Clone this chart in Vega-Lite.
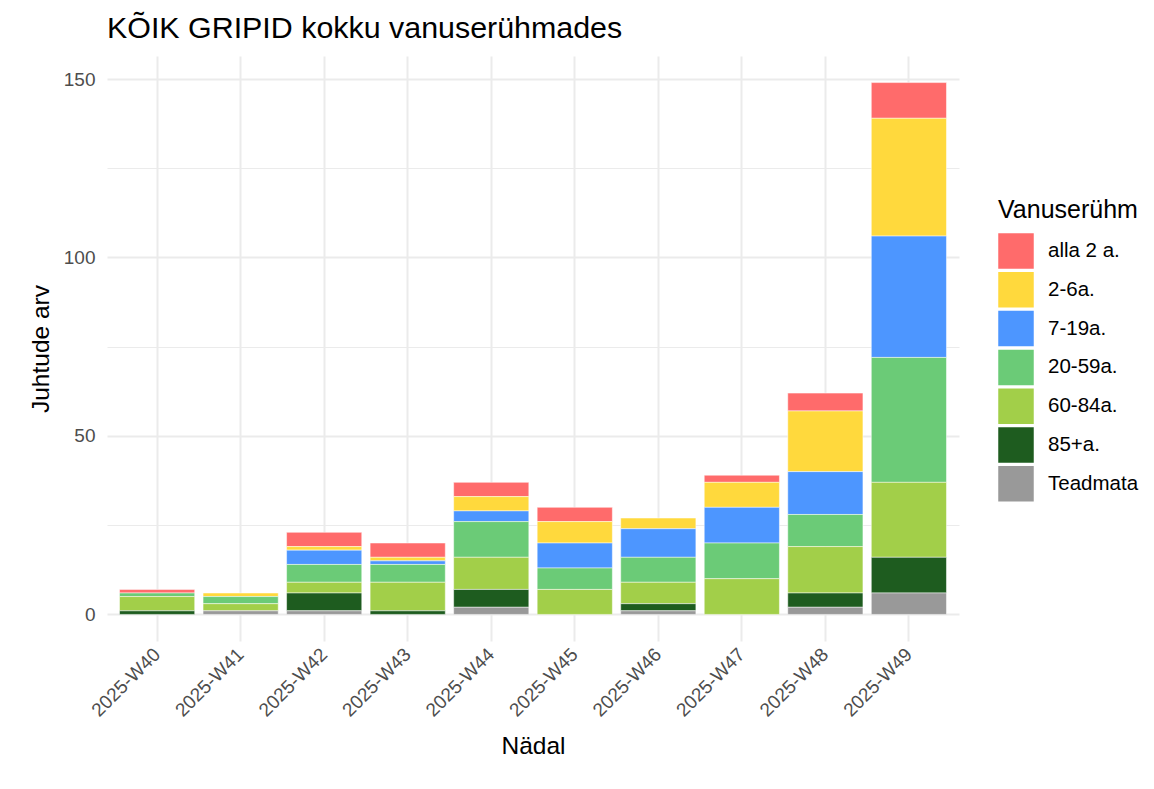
{
  "$schema": "https://vega.github.io/schema/vega-lite/v6.json",
  "width": 852,
  "height": 585,
  "autosize": {"type": "none"},
  "padding": {"left": 107, "top": 56, "right": 195, "bottom": 148},
  "background": "white",
  "title": {
    "text": "KÕIK GRIPID kokku vanuserühmades",
    "anchor": "start",
    "frame": "group",
    "font": "Liberation Sans",
    "fontSize": 30.4,
    "fontWeight": "normal",
    "color": "#000000",
    "offset": 12
  },
  "config": {
    "view": {"stroke": null},
    "font": "Liberation Sans"
  },
  "datasets": {
    "groups": [
      {"group": "alla 2 a.", "rank": 1},
      {"group": "2-6a.", "rank": 2},
      {"group": "7-19a.", "rank": 3},
      {"group": "20-59a.", "rank": 4},
      {"group": "60-84a.", "rank": 5},
      {"group": "85+a.", "rank": 6},
      {"group": "Teadmata", "rank": 7}
    ]
  },
  "data": {
    "values": [
      {"week": "2025-W40", "group": "alla 2 a.", "n": 1},
      {"week": "2025-W40", "group": "20-59a.", "n": 1},
      {"week": "2025-W40", "group": "60-84a.", "n": 4},
      {"week": "2025-W40", "group": "85+a.", "n": 1},
      {"week": "2025-W41", "group": "2-6a.", "n": 1},
      {"week": "2025-W41", "group": "20-59a.", "n": 2},
      {"week": "2025-W41", "group": "60-84a.", "n": 2},
      {"week": "2025-W41", "group": "Teadmata", "n": 1},
      {"week": "2025-W42", "group": "alla 2 a.", "n": 4},
      {"week": "2025-W42", "group": "2-6a.", "n": 1},
      {"week": "2025-W42", "group": "7-19a.", "n": 4},
      {"week": "2025-W42", "group": "20-59a.", "n": 5},
      {"week": "2025-W42", "group": "60-84a.", "n": 3},
      {"week": "2025-W42", "group": "85+a.", "n": 5},
      {"week": "2025-W42", "group": "Teadmata", "n": 1},
      {"week": "2025-W43", "group": "alla 2 a.", "n": 4},
      {"week": "2025-W43", "group": "2-6a.", "n": 1},
      {"week": "2025-W43", "group": "7-19a.", "n": 1},
      {"week": "2025-W43", "group": "20-59a.", "n": 5},
      {"week": "2025-W43", "group": "60-84a.", "n": 8},
      {"week": "2025-W43", "group": "85+a.", "n": 1},
      {"week": "2025-W44", "group": "alla 2 a.", "n": 4},
      {"week": "2025-W44", "group": "2-6a.", "n": 4},
      {"week": "2025-W44", "group": "7-19a.", "n": 3},
      {"week": "2025-W44", "group": "20-59a.", "n": 10},
      {"week": "2025-W44", "group": "60-84a.", "n": 9},
      {"week": "2025-W44", "group": "85+a.", "n": 5},
      {"week": "2025-W44", "group": "Teadmata", "n": 2},
      {"week": "2025-W45", "group": "alla 2 a.", "n": 4},
      {"week": "2025-W45", "group": "2-6a.", "n": 6},
      {"week": "2025-W45", "group": "7-19a.", "n": 7},
      {"week": "2025-W45", "group": "20-59a.", "n": 6},
      {"week": "2025-W45", "group": "60-84a.", "n": 7},
      {"week": "2025-W46", "group": "2-6a.", "n": 3},
      {"week": "2025-W46", "group": "7-19a.", "n": 8},
      {"week": "2025-W46", "group": "20-59a.", "n": 7},
      {"week": "2025-W46", "group": "60-84a.", "n": 6},
      {"week": "2025-W46", "group": "85+a.", "n": 2},
      {"week": "2025-W46", "group": "Teadmata", "n": 1},
      {"week": "2025-W47", "group": "alla 2 a.", "n": 2},
      {"week": "2025-W47", "group": "2-6a.", "n": 7},
      {"week": "2025-W47", "group": "7-19a.", "n": 10},
      {"week": "2025-W47", "group": "20-59a.", "n": 10},
      {"week": "2025-W47", "group": "60-84a.", "n": 10},
      {"week": "2025-W48", "group": "alla 2 a.", "n": 5},
      {"week": "2025-W48", "group": "2-6a.", "n": 17},
      {"week": "2025-W48", "group": "7-19a.", "n": 12},
      {"week": "2025-W48", "group": "20-59a.", "n": 9},
      {"week": "2025-W48", "group": "60-84a.", "n": 13},
      {"week": "2025-W48", "group": "85+a.", "n": 4},
      {"week": "2025-W48", "group": "Teadmata", "n": 2},
      {"week": "2025-W49", "group": "alla 2 a.", "n": 10},
      {"week": "2025-W49", "group": "2-6a.", "n": 33},
      {"week": "2025-W49", "group": "7-19a.", "n": 34},
      {"week": "2025-W49", "group": "20-59a.", "n": 35},
      {"week": "2025-W49", "group": "60-84a.", "n": 21},
      {"week": "2025-W49", "group": "85+a.", "n": 10},
      {"week": "2025-W49", "group": "Teadmata", "n": 6}
    ]
  },
  "transform": [
    {"lookup": "group", "from": {"data": {"name": "groups"}, "key": "group", "fields": ["rank"]}}
  ],
  "mark": {"type": "bar", "stroke": "#ffffff", "strokeWidth": 0.5},
  "encoding": {
    "x": {
      "field": "week",
      "type": "nominal",
      "scale": {"paddingInner": 0.1, "paddingOuter": 0.15},
      "axis": {
        "title": "Nädal",
        "titleFont": "Liberation Sans",
        "titleFontSize": 24.5,
        "titleFontWeight": "normal",
        "titleColor": "#000000",
        "titlePadding": 14,
        "labelAngle": -45,
        "labelAlign": "right",
        "labelBaseline": "middle",
        "labelFontSize": 19,
        "labelColor": "#4D4D4D",
        "labelPadding": 10,
        "ticks": false,
        "domain": false,
        "grid": true,
        "gridColor": "#EBEBEB",
        "gridWidth": 2
      }
    },
    "y": {
      "field": "n",
      "type": "quantitative",
      "stack": "zero",
      "scale": {"domain": [-7.45, 156.45], "nice": false, "zero": false},
      "axis": {
        "title": "Juhtude arv",
        "titleFont": "Liberation Sans",
        "titleFontSize": 24.5,
        "titleFontWeight": "normal",
        "titleColor": "#000000",
        "titlePadding": 10,
        "values": [0, 25, 50, 75, 100, 125, 150],
        "labelExpr": "datum.value % 50 === 0 ? datum.label : ''",
        "labelFontSize": 19,
        "labelColor": "#4D4D4D",
        "labelPadding": 12,
        "ticks": false,
        "domain": false,
        "grid": true,
        "gridColor": "#EBEBEB",
        "gridWidth": {"condition": {"test": "datum.value % 50 === 0", "value": 2}, "value": 1}
      }
    },
    "order": {"field": "rank", "type": "quantitative", "sort": "descending"},
    "color": {
      "field": "group",
      "type": "nominal",
      "sort": ["alla 2 a.", "2-6a.", "7-19a.", "20-59a.", "60-84a.", "85+a.", "Teadmata"],
      "scale": {
        "domain": ["alla 2 a.", "2-6a.", "7-19a.", "20-59a.", "60-84a.", "85+a.", "Teadmata"],
        "range": ["#FF6B6B", "#FFD93D", "#4D96FF", "#6BCB77", "#A2CF49", "#1E5C1F", "#999999"]
      },
      "legend": {
        "title": "Vanuserühm",
        "orient": "none",
        "legendX": 891,
        "legendY": 142,
        "titleFont": "Liberation Sans",
        "titleFontSize": 25,
        "titleFontWeight": "normal",
        "titleColor": "#000000",
        "titlePadding": 10,
        "labelFont": "Liberation Sans",
        "labelFontSize": 20.5,
        "labelColor": "#000000",
        "labelOffset": 14,
        "symbolType": "square",
        "symbolSize": 1260,
        "symbolStrokeWidth": 0,
        "symbolOpacity": 1,
        "rowPadding": 2.8
      }
    }
  }
}
